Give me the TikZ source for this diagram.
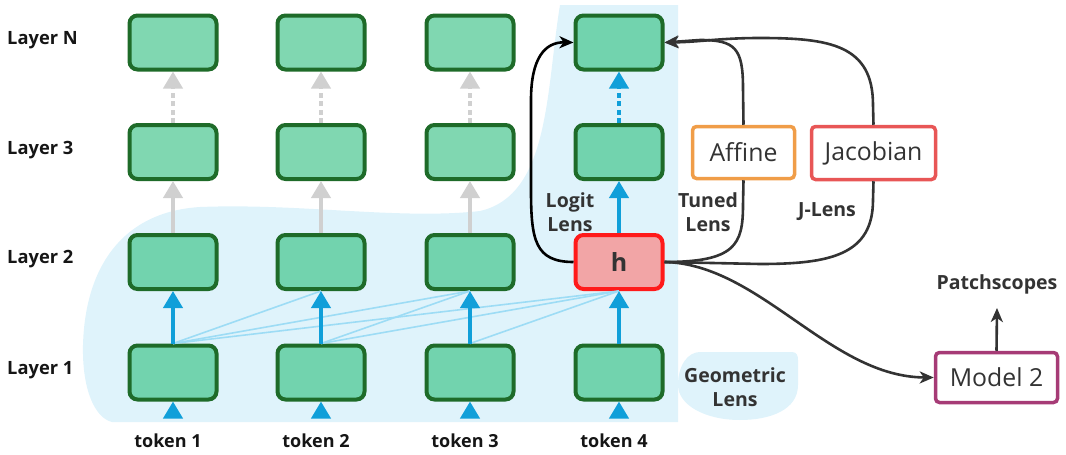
\documentclass[tikz,border=0pt]{standalone}
\usepackage{fontspec}
\setmainfont{Open Sans}
\usetikzlibrary{arrows.meta,calc}
\definecolor{gfill}{HTML}{72D3AE}
\definecolor{gfillL}{HTML}{80D7B1}
\definecolor{gline}{HTML}{1E6B29}
\definecolor{bluea}{HTML}{109FD9}
\definecolor{graya}{HTML}{D0D0D0}
\definecolor{bgblue}{HTML}{DFF3FB}
\definecolor{xline}{HTML}{9DDCF5}
\definecolor{hfill}{HTML}{F2A5A6}
\definecolor{hline}{HTML}{FF1A1A}
\definecolor{dark}{HTML}{333333}
\definecolor{blk}{HTML}{151515}
\definecolor{affc}{HTML}{F09D48}
\definecolor{jacc}{HTML}{E85656}
\definecolor{modc}{HTML}{A63B76}
\begin{document}
\begin{tikzpicture}[x=1pt,y=-1pt,
  cell/.style={draw=gline,line width=4pt,rounded corners=8pt,minimum width=87pt,minimum height=54pt,inner sep=0pt,fill=gfill},
  celltop/.style={cell,fill=gfillL},
  hcell/.style={cell,draw=hline,fill=hfill,text=dark,font=\bfseries\fontsize{25}{25}\selectfont},
  layerlab/.style={anchor=base west,inner sep=0pt,text=blk,font=\bfseries\fontsize{18.3}{20}\selectfont},
  toklab/.style={anchor=base,inner sep=0pt,text=blk,font=\bfseries\fontsize{18}{20}\selectfont},
  lenslab/.style={inner sep=0pt,text=dark,align=center,font=\bfseries\fontsize{19.5}{24.5}\selectfont},
  outbox/.style={draw,line width=3.5pt,rounded corners=4pt,fill=white,text=dark,inner sep=0pt,font=\fontsize{24.8}{25}\selectfont},
  bluearrow/.style={draw=bluea,line width=4pt,-{Triangle[width=19pt,length=17pt]}},
  grayarrow/.style={draw=graya,line width=4pt,-{Triangle[width=19pt,length=17pt]}},
  dotsty/.style={dash pattern=on 5pt off 3.5pt},
  xconn/.style={draw=xline,line width=1.6pt},
  lensarrow/.style={draw=dark,line width=2.6pt,-{Stealth[length=14pt,width=12pt,inset=4pt]}},
  lensline/.style={draw=dark,line width=2.6pt},
]
\useasboundingbox (0,0) rectangle (1066,455);
% backgrounds
\fill[bgblue] (678,422) -- (678,5) -- (560,5) .. controls (546,90) and (550,195) .. (480,211)
  .. controls (400,220) and (300,203) .. (200,207) .. controls (120,212) and (85,270) .. (83,345)
  .. controls (82,390) and (95,418) .. (112,422) -- cycle;
\fill[bgblue] (700,352) -- (792,352) .. controls (797,352) and (798,356) .. (798,360) -- (798,385)
  .. controls (798,410) and (770,420) .. (740,420) .. controls (705,420) and (678,405) .. (678,385)
  .. controls (678,365) and (688,352) .. (700,352) -- cycle;

% cells
\foreach \i/\x in {1/173,2/321,3/470}{
  \node[celltop] (n\i N) at (\x,42.5) {};
  \node[celltop] (n\i 3) at (\x,152) {};
  \node[cell] (n\i 2) at (\x,262) {};
  \node[cell] (n\i 1) at (\x,372.5) {};
}
\node[cell] (n4N) at (619,42.5) {};
\node[cell] (n43) at (619,152) {};
\node[hcell] (h) at (619,262) {h};
\node[cell] (n41) at (619,372.5) {};

% labels
\node[layerlab] (lN) at (7,44.5) {Layer N};
\node[layerlab] (l3) at (7,154) {Layer 3};
\node[layerlab] (l2) at (7,263.5) {Layer 2};
\node[layerlab] (l1) at (7,374) {Layer 1};
\node[toklab] (tk1) at (168,447) {token 1};
\node[toklab] (tk2) at (316,447) {token 2};
\node[toklab] (tk3) at (465,447) {token 3};
\node[toklab] (tk4) at (614,447) {token 4};

% cross connections
\draw[xconn] (n11.north) -- (n22.south);
\draw[xconn] (n11.north) -- (n32.south);
\draw[xconn] (n11.north) -- (h.south);
\draw[xconn] (n21.north) -- (n32.south);
\draw[xconn] (n21.north) -- (h.south);
\draw[xconn] (n31.north) -- (h.south);

% vertical arrows
\foreach \i/\x in {1/173,2/321,3/470,4/619}{
  \coordinate (t\i) at (\x,417);
  \draw[bluearrow] (t\i) -- (n\i 1.south);
}
\draw[bluearrow] (n11.north) -- (n12.south);
\draw[bluearrow] (n21.north) -- (n22.south);
\draw[bluearrow] (n31.north) -- (n32.south);
\draw[bluearrow] (n41.north) -- (h.south);
\draw[grayarrow] (n12.north) -- (n13.south);
\draw[grayarrow] (n22.north) -- (n23.south);
\draw[grayarrow] (n32.north) -- (n33.south);
\draw[bluearrow] (h.north) -- (n43.south);
\draw[grayarrow,dotsty] (n13.north) -- (n1N.south);
\draw[grayarrow,dotsty] (n23.north) -- (n2N.south);
\draw[grayarrow,dotsty] (n33.north) -- (n3N.south);
\draw[bluearrow,dotsty] (n43.north) -- (n4N.south);

% lens boxes
\node[outbox,draw=affc,minimum width=102pt,minimum height=52pt] (aff) at (743.5,152.5) {Affine};
\node[outbox,draw=jacc,minimum width=124pt,minimum height=53pt] (jac) at (873.5,153) {Jacobian};
\node[outbox,draw=modc,minimum width=122pt,minimum height=50pt] (m2) at (996.5,377.5) {Model 2};

% lens connectors
\draw[lensarrow,draw=black] (h.west) .. controls (535,262) and (531,240) .. (531,190) -- (531,100)
  .. controls (531,58) and (545,42) .. (n4N.west);
\draw[lensline] (h.east) .. controls (735,262) and (743,245) .. (743,205) -- (aff.south);
\draw[lensarrow] (aff.north) -- (743,88) .. controls (743,48) and (735,40) .. (700,40) -- (n4N.east);
\draw[lensline] (jac.south) -- (873,200) .. controls (873,255) and (830,264) .. (760,264) -- (h.east);
\draw[lensarrow] (jac.north) -- (873,105) .. controls (873,45) and (830,38) .. (760,38)
  .. controls (720,38) and (700,42) .. (n4N.east);
\draw[lensarrow] (h.east) .. controls (760,264) and (830,377) .. (m2.west);

% lens labels
\node[lenslab] (logit) at (570,212) {Logit\\Lens};
\node[lenslab] (tuned) at (708,212) {Tuned\\Lens};
\node[lenslab] (jl) at (827,212) {J-Lens};
\node[lenslab] (geo) at (735,387) {Geometric\\Lens};
\node[lenslab,anchor=base] (patch) at (997,289) {Patchscopes};
\draw[lensarrow] (m2.north) -- ($(patch.base)+(0,19)$);
\end{tikzpicture}
\end{document}
